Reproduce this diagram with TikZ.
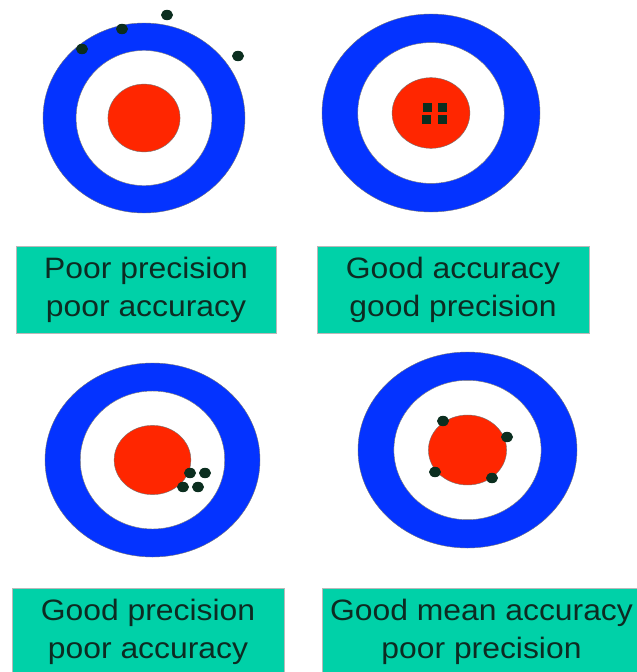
\documentclass[tikz,border=0pt]{standalone}
\usepackage{fontspec}
\setmainfont[FakeStretch=1.08]{Liberation Sans}

\definecolor{ringblue}{HTML}{0433FF}
\definecolor{bullred}{HTML}{FF2600}
\definecolor{shotgreen}{HTML}{0B2E1F}
\definecolor{boxteal}{HTML}{00D1A8}
\definecolor{labeltext}{HTML}{0D2B22}

\begin{document}
\begin{tikzpicture}[x=1pt, y=-1pt,
    ring/.style={draw=black!55, line width=0.4pt},
    shot/.style={fill=shotgreen},
    label box/.style={draw=gray!55, line width=0.8pt, fill=boxteal,
        text=labeltext, align=center, inner sep=0pt, minimum height=87pt,
        font=\fontsize{29.5}{38}\selectfont}]

    \useasboundingbox (0,0) rectangle (637,672);

    % targets
    \foreach \cx/\cy/\rx/\ry in {
        144/118/101/95,
        431/113/109/99,
        152.5/460/107.5/97,
        467.5/450/109.5/98
    }{
        \path[ring, fill=ringblue]
            (\cx,\cy) ellipse [x radius=\rx, y radius=\ry];
        \path[ring, fill=white]
            (\cx,\cy) ellipse [x radius=0.672*\rx, y radius=0.711*\ry];
        \path[ring, fill=bullred]
            (\cx,\cy) ellipse [x radius=0.357*\rx, y radius=0.357*\ry];
    }

    % shots
    \foreach \sx/\sy in {
        82/49, 122/29, 167/15, 238/56,
        190/473, 205/473, 183/487, 198/487,
        443/421, 507/437, 435/472, 492/478
    }{
        \fill[shot] (\sx,\sy) ellipse [x radius=6, y radius=5.2];
    }
    \foreach \sx/\sy in {427/107, 442/107, 426/119, 442/119}{
        \fill[shot] (\sx-4.5,\sy-4.5) rectangle ++(9,9);
    }

    % labels
    \node[label box, minimum width=260pt] (poorpoor) at (146,289.5)
        {Poor precision\\poor accuracy};
    \node[label box, minimum width=272pt] (goodgood) at (453,289.5)
        {Good accuracy\\good precision};
    \node[label box, minimum width=272pt] (goodpoor) at (148,631.5)
        {Good precision\\poor accuracy};
    \node[label box, minimum width=319pt] (meanpoor) at (481.5,631.5)
        {Good mean accuracy\\poor precision};
\end{tikzpicture}
\end{document}
